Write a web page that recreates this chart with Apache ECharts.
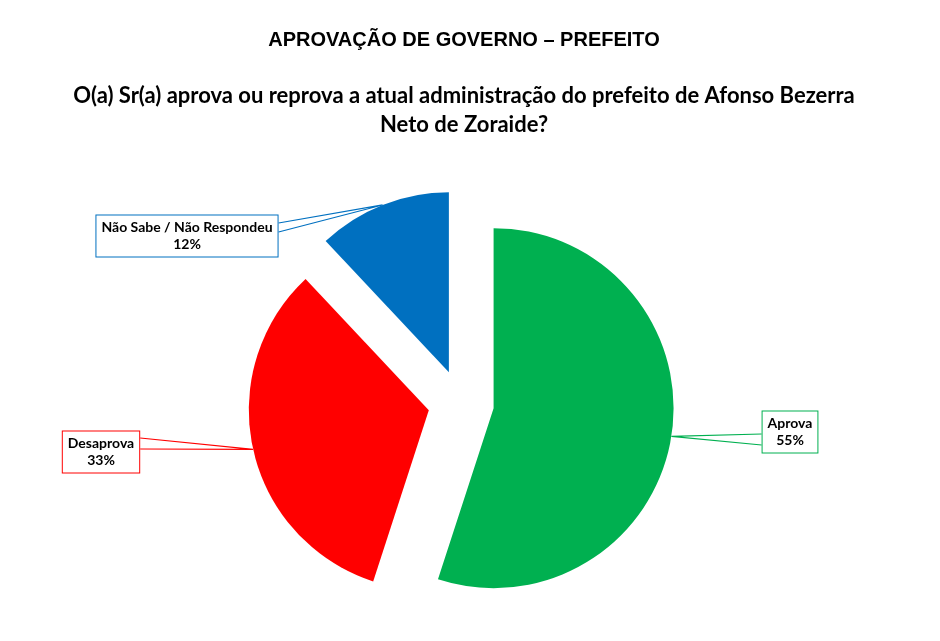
<!DOCTYPE html>
<html>
<head>
<meta charset="utf-8">
<script src="https://cdn.jsdelivr.net/npm/echarts@6/dist/echarts.min.js"></script>
<style>
  html, body { margin: 0; padding: 0; background: #fff; }
  #chart { width: 940px; height: 641px; }
</style>
</head>
<body>
<div id="chart"></div>
<script>
/* dados da pesquisa */
const categories = ['Aprova', 'Desaprova', 'Não Sabe / Não Respondeu'];
const percentuais = [55, 33, 12];
const cores = ['#00B050', '#FF0000', '#0070C0'];

/* geometria da pizza */
const CENTRO = [461, 403];
const RAIO = 180;
const DESLOC = 33;   // explosão das fatias

/* caixas de rótulo: centro e base do "balão" (offsets y relativos ao centro) */
const labelPos = [[790, 432], [101, 452], [187, 236]];
const baseBalao = [[2, 13], [-14, -3], [-13, -4]];

const chart = echarts.init(document.getElementById('chart'), null, { renderer: 'canvas' });

/* ponta do balão = borda externa da fatia (já explodida) no ângulo médio */
const total = percentuais.reduce((a, b) => a + b, 0);
let acum = 0;
const pontas = percentuais.map((v) => {
  const ang = (acum + v / 2) / total * Math.PI * 2;
  acum += v;
  const r = RAIO + DESLOC;
  return [CENTRO[0] + r * Math.sin(ang), CENTRO[1] - r * Math.cos(ang)];
});

const fatias = categories.map((name, i) => ({
  name: name,
  value: percentuais[i],
  selected: true,
  itemStyle: { color: cores[i] }
}));

const rotulos = categories.map((name, i) => ({
  name: name,
  value: percentuais[i],
  label: { borderColor: cores[i] },
  labelLine: { lineStyle: { color: cores[i] } }
}));

chart.setOption({
  animation: false,
  title: [
    {
      text: 'APROVAÇÃO DE GOVERNO – PREFEITO',
      left: 459, top: 25, textAlign: 'center',
      textStyle: { fontFamily: 'Liberation Sans, Arial', fontWeight: 'bold', fontSize: 20, color: '#000' }
    },
    {
      text: 'O(a) Sr(a) aprova ou reprova a atual administração do prefeito de Afonso Bezerra\nNeto de Zoraide?',
      left: 459, top: 76, textAlign: 'center',
      textStyle: { fontFamily: 'Lato', fontWeight: 'bold', fontSize: 22, lineHeight: 29, color: '#000' }
    }
  ],
  series: [
    {
      type: 'pie',
      center: CENTRO,
      radius: RAIO,
      startAngle: 90,
      clockwise: true,
      selectedMode: 'multiple',
      selectedOffset: DESLOC,
      silent: true,
      emphasis: { disabled: true },
      label: { show: false },
      labelLine: { show: false },
      data: fatias
    },
    {
      /* camada só de rótulos (transparente) */
      type: 'pie',
      center: CENTRO,
      radius: RAIO,
      startAngle: 90,
      clockwise: true,
      silent: true,
      z: 3,
      emphasis: { disabled: true },
      itemStyle: { color: 'rgba(0,0,0,0)' },
      label: {
        show: true,
        formatter: '{b}\n{c}%',
        fontFamily: 'Lato',
        fontWeight: 'bold',
        fontSize: 14,
        lineHeight: 17,
        color: '#000',
        backgroundColor: '#fff',
        borderWidth: 1,
        padding: [3.5, 5],
        align: 'center'
      },
      labelLine: { show: true, lineStyle: { width: 1.2 } },
      labelLayout: function (p) {
        const i = p.dataIndex;
        const pos = labelPos[i];
        const w = p.labelRect.width;
        const ponta = pontas[i];
        const ladoX = ponta[0] > pos[0] ? pos[0] + w / 2 : pos[0] - w / 2;
        return {
          x: pos[0], y: pos[1], align: 'center', verticalAlign: 'middle',
          labelLinePoints: [
            [ladoX, pos[1] + baseBalao[i][0]],
            ponta,
            [ladoX, pos[1] + baseBalao[i][1]]
          ]
        };
      },
      data: rotulos
    }
  ]
});
</script>
</body>
</html>
